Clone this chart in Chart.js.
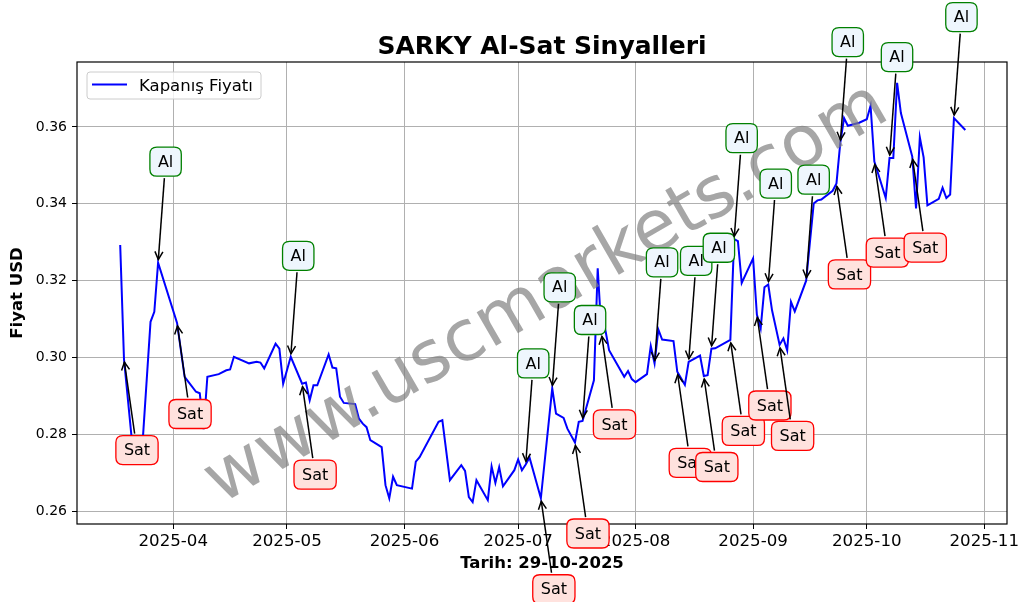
<!DOCTYPE html>
<html><head><meta charset="utf-8">
<script src="https://cdn.jsdelivr.net/npm/chart.js@4.4.1/dist/chart.umd.min.js"></script>
<style>html,body{margin:0;padding:0;background:#fff;}#wrap{width:1029px;height:602px;}</style>
</head><body><div id="wrap"><canvas id="c" width="1029" height="602"></canvas></div>
<script>
const dates = ['2025-03-18','2025-03-19','2025-03-21','2025-03-24','2025-03-26','2025-03-27','2025-03-28',
'2025-04-02','2025-04-04','2025-04-05','2025-04-07','2025-04-08','2025-04-09','2025-04-10','2025-04-13','2025-04-15','2025-04-16','2025-04-17','2025-04-21','2025-04-23','2025-04-24','2025-04-25','2025-04-28','2025-04-29','2025-04-30',
'2025-05-02','2025-05-05','2025-05-06','2025-05-07','2025-05-08','2025-05-09','2025-05-12','2025-05-13','2025-05-14','2025-05-15','2025-05-16','2025-05-19','2025-05-20','2025-05-21','2025-05-22','2025-05-23','2025-05-26','2025-05-27','2025-05-28','2025-05-29','2025-05-30',
'2025-06-03','2025-06-04','2025-06-05','2025-06-10','2025-06-11','2025-06-13','2025-06-16','2025-06-17','2025-06-18','2025-06-19','2025-06-20','2025-06-23','2025-06-24','2025-06-25','2025-06-26','2025-06-27','2025-06-30',
'2025-07-01','2025-07-02','2025-07-03','2025-07-04','2025-07-07','2025-07-10','2025-07-11','2025-07-13','2025-07-14','2025-07-16','2025-07-17','2025-07-18','2025-07-21','2025-07-22','2025-07-23','2025-07-24','2025-07-25','2025-07-29','2025-07-30','2025-07-31',
'2025-08-01','2025-08-04','2025-08-05','2025-08-06','2025-08-07','2025-08-08','2025-08-11','2025-08-12','2025-08-14','2025-08-15','2025-08-18','2025-08-19','2025-08-20','2025-08-21','2025-08-22','2025-08-26','2025-08-27','2025-08-28','2025-08-29',
'2025-09-01','2025-09-02','2025-09-03','2025-09-04','2025-09-05','2025-09-06','2025-09-08','2025-09-09','2025-09-10','2025-09-11','2025-09-12','2025-09-15','2025-09-17','2025-09-18','2025-09-19','2025-09-22','2025-09-23','2025-09-24','2025-09-25','2025-09-26','2025-09-29',
'2025-10-01','2025-10-02','2025-10-03','2025-10-06','2025-10-07','2025-10-08','2025-10-09','2025-10-10','2025-10-13','2025-10-14','2025-10-15','2025-10-16','2025-10-17','2025-10-20','2025-10-21','2025-10-22','2025-10-23','2025-10-24','2025-10-27'];
const closes = [0.3293,0.2996,0.2793,0.2793,0.3093,0.3119,0.3247,
0.3090,0.2950,0.2937,0.2911,0.2907,0.2814,0.2950,0.2957,0.2967,0.2969,0.3002,0.2985,0.2989,0.2987,0.2972,0.3036,0.3023,0.2932,
0.3002,0.2932,0.2935,0.2889,0.2928,0.2928,0.3008,0.2974,0.2972,0.2898,0.2882,0.2879,0.2841,0.2828,0.2819,0.2785,0.2767,0.2668,0.2634,0.2690,0.2668,
0.2659,0.2729,0.2741,0.2833,0.2837,0.2681,0.2720,0.2705,0.2637,0.2624,0.2681,0.2629,0.2717,0.2674,0.2715,0.2665,0.2707,
0.2735,0.2707,0.2722,0.2740,0.2634,0.2920,0.2854,0.2843,0.2815,0.2779,0.2833,0.2835,0.2941,0.3232,0.3063,0.3073,0.3019,0.2950,0.2965,0.2944,
0.2936,0.2957,0.3030,0.2985,0.3073,0.3047,0.3043,0.2963,0.2929,0.2989,0.3005,0.2952,0.2954,0.3023,0.3024,0.3046,0.3308,0.3303,0.3194,
0.3258,0.3112,0.3076,0.3183,0.3190,0.3123,0.3033,0.3050,0.3019,0.3145,0.3120,0.3200,0.3401,0.3409,0.3411,0.3434,0.3453,0.3558,0.3623,0.3603,0.3611,
0.3620,0.3655,0.3510,0.3415,0.3519,0.3519,0.3715,0.3636,0.3523,0.3388,0.3573,0.3521,0.3396,0.3413,0.3442,0.3415,0.3424,0.3623,0.3592];
const alDates = ['2025-03-28','2025-05-02','2025-07-03','2025-07-10','2025-07-18','2025-08-06','2025-08-15','2025-08-21','2025-08-27','2025-09-05','2025-09-15','2025-09-24','2025-10-07','2025-10-24'];
const satDates = ['2025-03-19','2025-04-02','2025-05-05','2025-07-07','2025-07-16','2025-07-23','2025-08-12','2025-08-19','2025-08-26','2025-09-02','2025-09-08','2025-09-23','2025-10-03','2025-10-13'];
const monthTicks = ['2025-04-01','2025-05-01','2025-06-01','2025-07-01','2025-08-01','2025-09-01','2025-10-01','2025-11-01'];
const yTicks = [0.26,0.28,0.30,0.32,0.34,0.36];
const titleText = 'SARKY Al-Sat Sinyalleri';
const xLabel = 'Tarih: 29-10-2025';
const yLabel = 'Fiyat USD';
const legendLabel = 'Kapanış Fiyatı';
const watermarkText = 'www.uscmarkets.com';

const FONT = '"DejaVu Sans", sans-serif';
function dayOf(s){const p=s.split('-').map(Number);return (Date.UTC(p[0],p[1]-1,p[2])-Date.UTC(2025,3,1))/86400000;}
const points = dates.map((d,i)=>({x:dayOf(d),y:closes[i]}));

function roundRect(ctx,x,y,w,h,r){ctx.beginPath();ctx.moveTo(x+r,y);ctx.lineTo(x+w-r,y);ctx.quadraticCurveTo(x+w,y,x+w,y+r);ctx.lineTo(x+w,y+h-r);ctx.quadraticCurveTo(x+w,y+h,x+w-r,y+h);ctx.lineTo(x+r,y+h);ctx.quadraticCurveTo(x,y+h,x,y+h-r);ctx.lineTo(x,y+r);ctx.quadraticCurveTo(x,y,x+r,y);ctx.closePath();}

function drawSignal(ctx,px,py,label,isAl){
  const cx=px+(isAl?7.5:13), cy=py+(isAl?-101:91);
  ctx.font='16px '+FONT;
  const tw=ctx.measureText(label).width;
  const w=tw+16,h=29;
  const dx=px-cx,dy=py-cy,L=Math.hypot(dx,dy),ux=dx/L,uy=dy/L;
  const tEdge=Math.min((w/2)/Math.max(Math.abs(ux),1e-6),(h/2)/Math.max(Math.abs(uy),1e-6));
  const sx=cx+ux*(tEdge+2),sy=cy+uy*(tEdge+2);
  const ex=px-ux*3,ey=py-uy*3;
  ctx.save();
  ctx.strokeStyle='#000';ctx.lineWidth=1.5;ctx.lineCap='butt';
  ctx.beginPath();ctx.moveTo(sx,sy);ctx.lineTo(ex,ey);ctx.stroke();
  const hl=8,hw=4,nx=-uy,ny=ux;
  ctx.beginPath();
  ctx.moveTo(ex-ux*hl+nx*hw,ey-uy*hl+ny*hw);ctx.lineTo(ex,ey);ctx.lineTo(ex-ux*hl-nx*hw,ey-uy*hl-ny*hw);
  ctx.stroke();
  roundRect(ctx,cx-w/2,cy-h/2,w,h,7);
  ctx.fillStyle=isAl?'#eef6fd':'#ffe2de';ctx.fill();
  ctx.lineWidth=1.3;ctx.strokeStyle=isAl?'#008000':'#ff0000';ctx.stroke();
  ctx.fillStyle='#000';ctx.textAlign='center';ctx.textBaseline='middle';
  ctx.fillText(label,cx,cy+1);
  ctx.restore();
}

const deco={
  id:'deco',
  beforeDraw(chart){const c=chart.ctx;c.save();c.fillStyle='#fff';c.fillRect(0,0,chart.width,chart.height);c.restore();},
  afterDatasetsDraw(chart){
    const c=chart.ctx,a=chart.chartArea;
    c.save();
    c.strokeStyle='#000';c.lineWidth=1.2;
    c.strokeRect(a.left,a.top,a.right-a.left,a.bottom-a.top);
    // legend
    roundRect(c,87,72,174,27,3);
    c.fillStyle='rgba(255,255,255,0.8)';c.fill();
    c.strokeStyle='#cccccc';c.lineWidth=1;c.stroke();
    c.strokeStyle='#0000ff';c.lineWidth=2;
    c.beginPath();c.moveTo(92,84.5);c.lineTo(127,84.5);c.stroke();
    c.fillStyle='#000';c.font='16.5px '+FONT;c.textAlign='left';c.textBaseline='alphabetic';
    c.fillText(legendLabel,139,91);
    c.restore();
  },
  afterDraw(chart){
    const c=chart.ctx,a=chart.chartArea,xs=chart.scales.x,ys=chart.scales.y;
    c.save();
    // titles
    c.fillStyle='#000';c.textAlign='center';c.textBaseline='alphabetic';
    c.font='bold 25px '+FONT;c.fillText(titleText,(a.left+a.right)/2,54);
    c.font='bold 16.5px '+FONT;c.fillText(xLabel,(a.left+a.right)/2,568);
    c.save();c.translate(22,(a.top+a.bottom)/2);c.rotate(-Math.PI/2);c.fillText(yLabel,0,0);c.restore();
    // watermark
    c.save();c.translate(547,295);c.rotate(-Math.PI/6);
    c.font='71px '+FONT;c.fillStyle='rgba(128,128,128,0.7)';c.textAlign='center';c.textBaseline='middle';
    c.fillText(watermarkText,0,0);c.restore();
    // signals
    const sig=[];
    alDates.forEach(d=>sig.push({d,al:true}));
    satDates.forEach(d=>sig.push({d,al:false}));
    sig.forEach(s=>{
      const i=dates.indexOf(s.d);
      const px=xs.getPixelForValue(dayOf(s.d)),py=ys.getPixelForValue(closes[i]);
      drawSignal(c,px,py,s.al?'Al':'Sat',s.al);
    });
    c.restore();
  }
};

new Chart(document.getElementById('c'),{
  type:'line',
  data:{datasets:[{label:legendLabel,data:points,borderColor:'#0000ff',borderWidth:2,pointRadius:0,tension:0,fill:false}]},
  options:{
    responsive:false,animation:false,devicePixelRatio:1,
    parsing:false,
    layout:{padding:{left:0,top:62,right:22,bottom:0}},
    plugins:{legend:{display:false},title:{display:false},tooltip:{enabled:false}},
    scales:{
      x:{type:'linear',min:-25.4,max:220,
        afterBuildTicks(s){s.ticks=monthTicks.map(m=>({value:dayOf(m)}));},
        afterFit(s){s.height=78;},
        grid:{color:'#b0b0b0',lineWidth:1,drawTicks:true,tickLength:5,tickColor:'#000',tickWidth:1},
        border:{display:false},
        ticks:{font:{family:'DejaVu Sans',size:16.67},color:'#000',padding:3,maxRotation:0,autoSkip:false,
          callback:(v,i)=>monthTicks[i]?monthTicks[i].slice(0,7):''}},
      y:{type:'linear',min:0.2567,max:0.3769,
        afterBuildTicks(s){s.ticks=yTicks.map(v=>({value:v}));},
        afterFit(s){s.width=77;},
        grid:{color:'#b0b0b0',lineWidth:1,drawTicks:true,tickLength:5,tickColor:'#000',tickWidth:1},
        border:{display:false},
        ticks:{font:{family:'DejaVu Sans',size:14},color:'#000',padding:5,autoSkip:false,
          callback:v=>Number(v).toFixed(2)}}
    }
  },
  plugins:[deco]
});
</script></body></html>
